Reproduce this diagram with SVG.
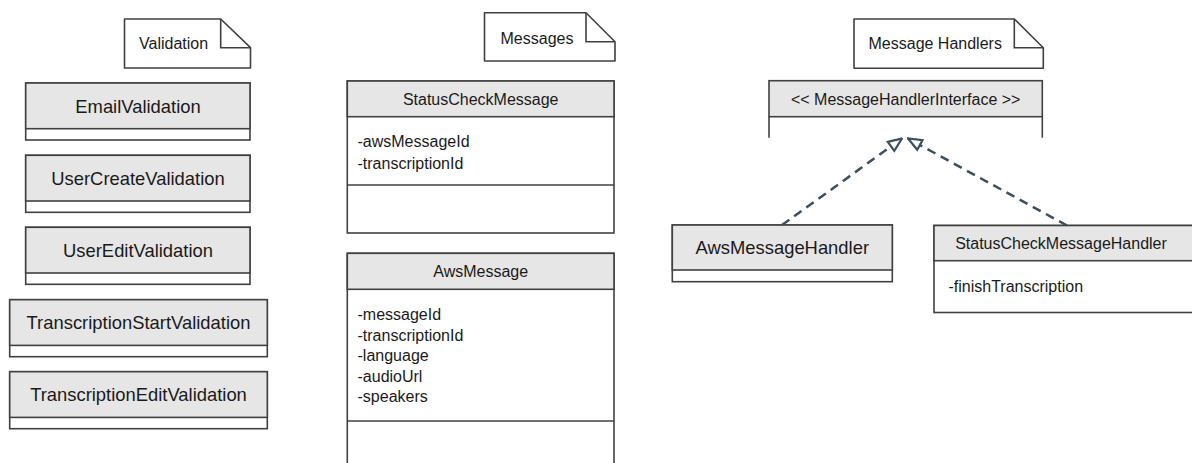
<svg xmlns="http://www.w3.org/2000/svg" width="1192" height="463" viewBox="0 0 1192 463">
<defs>
<style>
.bg{fill:#ffffff}
.box{fill:#ffffff;stroke:#404040;stroke-width:1.6}
.hdr{fill:#e6e6e6;stroke:#404040;stroke-width:1.6}
.ln{stroke:#404040;stroke-width:1.6;fill:none}
.note{fill:#ffffff;stroke:#404040;stroke-width:1.6;stroke-linejoin:round}
.t{font-family:"Liberation Sans",Arial,sans-serif;fill:#1a1a1a}
.big{font-size:18.4px;text-anchor:middle}
.mid{font-size:16px;text-anchor:middle}
.sm{font-size:16px}
.con{fill:none;stroke:#3b4f5c;stroke-width:2.5;stroke-dasharray:9 6}
</style>
<marker id="tri" viewBox="0 0 16 14" refX="15" refY="7" markerWidth="16" markerHeight="14" markerUnits="userSpaceOnUse" orient="auto">
<path d="M1.5,1.5 L15,7 L1.5,12.5 Z" fill="#ffffff" stroke="#3b4f5c" stroke-width="2.2" stroke-linejoin="miter"/>
</marker>
</defs>
<rect class="bg" x="0" y="0" width="1192" height="463"/>

<!-- Notes -->
<g id="note-validation">
<path class="note" d="M124.5,19 H220.7 L250.5,47.7 V68 H124.5 Z"/>
<path class="ln" d="M220.7,19 V47.7 H250.5"/>
<text class="t sm" x="139" y="49">Validation</text>
</g>
<g id="note-messages">
<path class="note" d="M484.5,12.7 H586 L615,41.7 V61 H484.5 Z"/>
<path class="ln" d="M586,12.7 V41.7 H615"/>
<text class="t sm" x="500.5" y="43.5">Messages</text>
</g>
<g id="note-handlers">
<path class="note" d="M854,19 H1014.3 L1043.3,47.7 V68.3 H854 Z"/>
<path class="ln" d="M1014.3,19 V47.7 H1043.3"/>
<text class="t sm" x="868.5" y="49">Message Handlers</text>
</g>

<!-- Validation classes -->
<g id="EmailValidation">
<rect class="box" x="25.7" y="83" width="224.3" height="57"/>
<rect class="hdr" x="25.7" y="83" width="224.3" height="45.7"/>
<text class="t big" x="138" y="112.5">EmailValidation</text>
</g>
<g id="UserCreateValidation">
<rect class="box" x="25.7" y="155.3" width="224.3" height="57"/>
<rect class="hdr" x="25.7" y="155.3" width="224.3" height="45.7"/>
<text class="t big" x="138" y="184.6">UserCreateValidation</text>
</g>
<g id="UserEditValidation">
<rect class="box" x="25.7" y="227.3" width="224.3" height="57"/>
<rect class="hdr" x="25.7" y="227.3" width="224.3" height="45.7"/>
<text class="t big" x="138" y="256.6">UserEditValidation</text>
</g>
<g id="TranscriptionStartValidation">
<rect class="box" x="9.7" y="299.7" width="257.6" height="57"/>
<rect class="hdr" x="9.7" y="299.7" width="257.6" height="45.7"/>
<text class="t big" x="138.5" y="329">TranscriptionStartValidation</text>
</g>
<g id="TranscriptionEditValidation">
<rect class="box" x="9.7" y="371.7" width="257.6" height="57"/>
<rect class="hdr" x="9.7" y="371.7" width="257.6" height="45.7"/>
<text class="t big" x="138.5" y="401">TranscriptionEditValidation</text>
</g>

<!-- Messages -->
<g id="StatusCheckMessage">
<rect class="box" x="347.3" y="81" width="266.7" height="152"/>
<rect class="hdr" x="347.3" y="81" width="266.7" height="35.7"/>
<line class="ln" x1="347.3" y1="185" x2="614" y2="185"/>
<text class="t mid" x="480.7" y="104.7">StatusCheckMessage</text>
<text class="t sm" x="357.5" y="147">-awsMessageId</text>
<text class="t sm" x="357.5" y="168.5">-transcriptionId</text>
</g>
<g id="AwsMessage">
<rect class="box" x="347.3" y="253.3" width="266.7" height="230"/>
<rect class="hdr" x="347.3" y="253.3" width="266.7" height="36"/>
<line class="ln" x1="347.3" y1="421" x2="614" y2="421"/>
<text class="t mid" x="480.7" y="277.2">AwsMessage</text>
<text class="t sm" x="357.5" y="320">-messageId</text>
<text class="t sm" x="357.5" y="340.5">-transcriptionId</text>
<text class="t sm" x="357.5" y="361">-language</text>
<text class="t sm" x="357.5" y="381.5">-audioUrl</text>
<text class="t sm" x="357.5" y="402">-speakers</text>
</g>

<!-- Message handlers -->
<g id="MessageHandlerInterface">
<rect x="769" y="80.7" width="273.3" height="57" fill="#ffffff"/>
<rect class="hdr" x="769" y="80.7" width="273.3" height="36"/>
<line class="ln" x1="769" y1="116.7" x2="769" y2="137.7"/>
<line class="ln" x1="1042.3" y1="116.7" x2="1042.3" y2="137.7"/>
<text class="t mid" x="905.7" y="104.5">&lt;&lt; MessageHandlerInterface &gt;&gt;</text>
</g>
<g id="AwsMessageHandler">
<rect class="box" x="672.3" y="225" width="220" height="56.7"/>
<rect class="hdr" x="672.3" y="225" width="220" height="45"/>
<text class="t big" x="782.3" y="254">AwsMessageHandler</text>
</g>
<g id="StatusCheckMessageHandler">
<rect class="box" x="934" y="225.5" width="262" height="87"/>
<rect class="hdr" x="934" y="225.5" width="262" height="35.2"/>
<text class="t mid" x="1061" y="248.9">StatusCheckMessageHandler</text>
<text class="t sm" x="948.5" y="291.5">-finishTranscription</text>
</g>

<!-- Connectors -->
<g id="connectors">
<path class="con" d="M782,225 L902,138.5" marker-end="url(#tri)"/>
<path class="con" d="M1067,225.5 L908,138.5" marker-end="url(#tri)"/>
</g>
</svg>
